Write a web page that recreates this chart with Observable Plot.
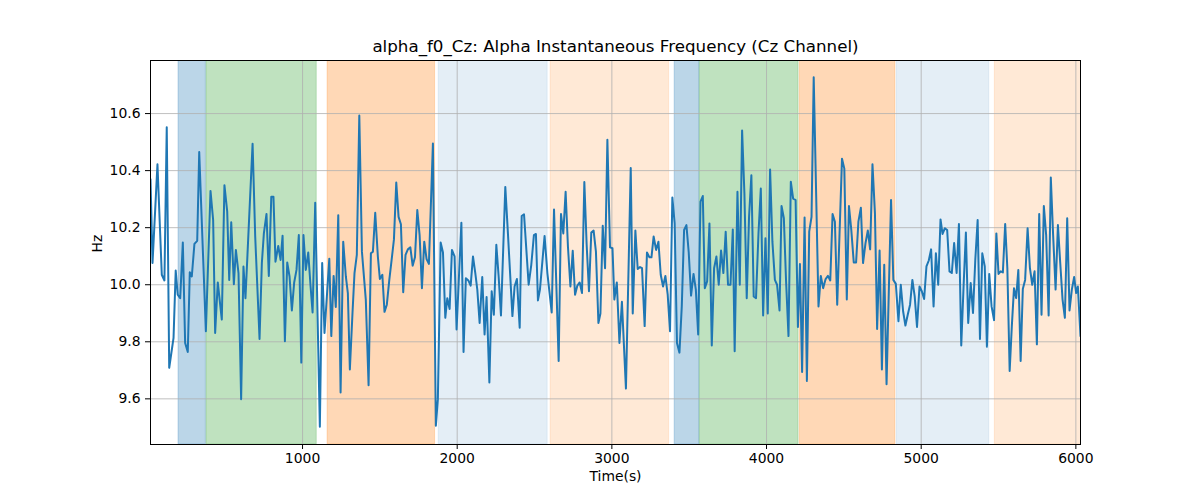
<!DOCTYPE html>
<html>
<head>
<meta charset="utf-8">
<script src="https://cdn.jsdelivr.net/npm/d3@7"></script>
<script src="https://cdn.jsdelivr.net/npm/@observablehq/plot@0.6"></script>
<style>
  html, body { margin: 0; padding: 0; background: white; }
</style>
</head>
<body>
<div id="chart"></div>
<script>
const titleText = "alpha_f0_Cz: Alpha Instantaneous Frequency (Cz Channel)";
const xLabel = "Time(s)";
const yLabel = "Hz";
const xTicks = [1000, 2000, 3000, 4000, 5000, 6000];
const yTicks = [9.6, 9.8, 10.0, 10.2, 10.4, 10.6];

const bandStart = [198, 379, 1162, 1880, 2604, 3406, 3568, 4215, 4842, 5476];
const bandEnd   = [375, 1092, 1857, 2585, 3370, 3566, 4207, 4833, 5440, 6040];
const bandColor = ["#1f77b4", "#2ca02c", "#ff7f0e", "#1f77b4", "#ff7f0e", "#1f77b4", "#2ca02c", "#ff7f0e", "#1f77b4", "#ff7f0e"];
const bandAlpha = [0.3, 0.3, 0.3, 0.12, 0.17, 0.3, 0.3, 0.3, 0.12, 0.17];

const times = [17,30,62,90,107,122,138,166,180,193,209,226,241,258,271,284,301,319,332,349,375,405,422,435,452,478,495,513,526,539,556,569,586,603,618,631,677,694,722,737,750,767,782,798,812,825,843,858,871,886,901,916,931,946,961,976,992,1006,1021,1037,1052,1065,1082,1112,1127,1142,1173,1186,1201,1215,1231,1246,1263,1280,1293,1306,1323,1336,1351,1367,1384,1409,1427,1442,1455,1470,1487,1500,1516,1530,1545,1561,1576,1591,1606,1621,1636,1651,1666,1681,1697,1712,1727,1742,1757,1772,1787,1802,1817,1843,1862,1875,1893,1908,1923,1936,1951,1966,1983,1996,2027,2041,2056,2072,2087,2102,2117,2130,2145,2162,2177,2190,2208,2223,2237,2253,2268,2283,2311,2328,2357,2371,2386,2404,2417,2432,2462,2479,2496,2509,2522,2535,2565,2583,2611,2626,2656,2671,2686,2701,2716,2732,2747,2762,2777,2792,2807,2822,2837,2852,2867,2882,2897,2913,2926,2941,2956,2971,2988,3004,3016,3032,3049,3065,3091,3122,3135,3152,3167,3182,3195,3212,3227,3243,3256,3270,3286,3301,3316,3331,3346,3361,3376,3391,3406,3421,3437,3452,3467,3482,3497,3512,3528,3543,3558,3573,3588,3601,3616,3631,3646,3661,3676,3691,3706,3721,3736,3751,3767,3782,3794,3812,3827,3842,3857,3872,3887,3902,3917,3932,3948,3963,3978,3993,4008,4023,4038,4054,4068,4084,4097,4112,4126,4142,4157,4172,4188,4203,4216,4230,4246,4261,4276,4291,4305,4336,4351,4366,4382,4397,4412,4427,4442,4457,4488,4503,4519,4533,4548,4564,4579,4594,4610,4624,4640,4655,4670,4685,4701,4715,4731,4746,4761,4776,4805,4820,4836,4853,4868,4883,4898,4913,4928,4943,4958,4973,4989,5004,5019,5034,5049,5064,5080,5095,5110,5125,5138,5153,5168,5183,5198,5213,5229,5244,5259,5274,5289,5304,5320,5335,5350,5365,5380,5395,5411,5425,5440,5455,5471,5486,5500,5514,5528,5543,5557,5572,5586,5600,5614,5628,5643,5657,5672,5688,5703,5718,5733,5748,5763,5778,5793,5808,5824,5838,5853,5869,5884,5899,5914,5929,5944,5959,5974,5989,6002,6013,6030];

const freqs = [10.37,10.076,10.422,10.035,10.015,10.552,9.709,9.814,10.05,9.965,9.953,10.148,9.796,9.764,10.044,10.029,10.143,10.154,10.465,10.215,9.837,10.329,10.227,9.831,10.008,9.878,10.349,10.256,10.017,10.219,10.002,10.122,10.041,9.599,10.064,9.953,10.494,10.169,9.81,10.076,10.18,10.248,10.031,10.308,10.308,10.081,10.136,10.087,10.172,9.802,10.078,10.029,9.91,10.008,10.052,10.174,9.727,10.174,10.052,10.113,9.994,9.903,10.287,9.502,10.076,9.831,10.091,9.82,10.031,9.922,10.244,9.622,10.151,10.029,9.971,9.703,9.901,10.041,10.105,10.593,10.116,9.948,9.648,10.11,10.116,10.252,10.099,10.02,10.035,9.905,9.93,10.017,10.087,10.159,10.358,10.238,10.212,9.974,10.105,10.124,10.131,10.067,10.096,10.262,10.174,9.988,10.151,10.09,10.073,10.495,9.506,9.599,10.148,10.113,9.884,9.953,9.915,10.122,10.099,9.843,10.217,9.764,10.023,10.015,9.997,10.099,10.041,9.983,9.866,10.027,9.826,9.957,9.657,9.977,9.895,10.14,10.029,9.892,10.343,10.18,9.89,9.994,10.02,9.849,10.241,10.247,10.0,10.07,10.174,10.178,9.945,9.983,10.171,10.041,9.903,10.264,9.733,10.248,10.18,10.326,10.134,9.994,10.119,9.965,9.997,10.008,9.971,10.36,10.14,9.977,10.183,10.19,10.116,9.866,9.899,10.207,10.058,10.508,10.131,10.128,9.948,10.008,9.796,9.94,9.636,10.409,9.899,10.19,10.055,10.062,10.058,9.855,10.113,10.096,10.096,10.169,10.122,10.151,10.035,9.994,10.031,9.965,9.837,10.306,10.215,9.796,9.762,9.924,10.192,10.209,10.113,9.962,10.038,9.983,9.826,10.291,10.311,9.988,10.012,10.215,9.787,10.058,10.099,10.0,10.12,10.041,10.186,10.0,10.0,10.194,9.767,10.326,10.0,10.541,10.32,9.953,10.238,10.384,9.959,9.953,10.18,10.337,9.892,10.163,9.899,10.404,10.151,10.017,10.0,9.91,10.276,10.233,10.017,9.82,10.361,10.302,10.297,9.852,10.073,9.694,10.236,9.663,10.186,10.238,10.727,9.924,10.031,9.988,10.02,10.031,10.015,10.248,10.221,9.93,10.442,10.407,9.948,10.276,10.192,10.078,10.078,10.221,10.27,10.076,10.146,10.19,10.124,10.422,10.25,9.845,10.12,9.703,10.07,9.651,10.297,10.017,10.003,9.872,10.0,9.907,9.857,9.895,9.93,10.017,9.959,9.852,9.994,9.977,9.95,10.064,10.085,10.124,9.924,10.11,10.0,10.229,10.178,10.198,10.192,10.047,10.041,10.146,10.041,10.213,9.787,9.994,10.183,9.866,10.006,9.901,10.09,10.227,9.81,10.11,10.064,9.783,10.038,9.924,9.876,10.18,10.038,10.047,10.043,10.213,10.058,9.698,9.855,9.988,9.953,10.052,9.733,9.985,10.017,10.198,10.058,10.0,10.047,9.791,10.248,9.895,10.276,10.174,9.892,10.376,10.174,9.983,10.209,10.076,9.948,9.884,10.233,9.91,9.983,10.027,9.971,9.994,9.82];

const series = times.map((t, i) => ({t, f: freqs[i]}));
const bands = bandStart.map((s, i) => ({x1: s, x2: bandEnd[i], color: bandColor[i], alpha: bandAlpha[i]}));

const xDomain = [17, 6030];
const yDomain = [9.44, 10.786];

const chart = Plot.plot({
  width: 1200,
  height: 500,
  marginLeft: 150,
  marginRight: 120,
  marginTop: 60,
  marginBottom: 56,
  style: {fontFamily: "DejaVu Sans", fontSize: "13.9px", background: "white", color: "black"},
  x: {domain: xDomain},
  y: {domain: yDomain},
  marks: [
    Plot.rect(bands, {x1: "x1", x2: "x2", fill: "color", fillOpacity: "alpha", clip: true}),
    Plot.rect(bands, {x1: "x1", x2: "x2", stroke: "color", strokeOpacity: d => d.alpha * 0.8, strokeWidth: 1, fill: "none", clip: true}),
    Plot.ruleX(xTicks, {stroke: "#b0b0b0", strokeWidth: 0.8, strokeOpacity: 1}),
    Plot.ruleY(yTicks, {stroke: "#b0b0b0", strokeWidth: 0.8, strokeOpacity: 1}),
    Plot.line(series, {x: "t", y: "f", stroke: "#1f77b4", strokeWidth: 2, clip: true}),
    Plot.frame({stroke: "black", strokeWidth: 1}),
    Plot.axisX({ticks: xTicks, tickFormat: d => String(d), tickSize: 5, tickPadding: 4, label: null, fontSize: 13.9}),
    Plot.axisY({ticks: yTicks, tickFormat: d3.format(".1f"), tickSize: 5, tickPadding: 5, label: null, fontSize: 13.9}),
    Plot.text([titleText], {frameAnchor: "top", dy: -20, fontSize: 16.7, fill: "black"}),
    Plot.text([xLabel], {frameAnchor: "bottom", dy: 36, fontSize: 13.9, fill: "black"}),
    Plot.text([yLabel], {frameAnchor: "left", dx: -53, rotate: -90, fontSize: 13.9, fill: "black"})
  ]
});
document.getElementById("chart").appendChild(chart);
</script>
</body>
</html>
